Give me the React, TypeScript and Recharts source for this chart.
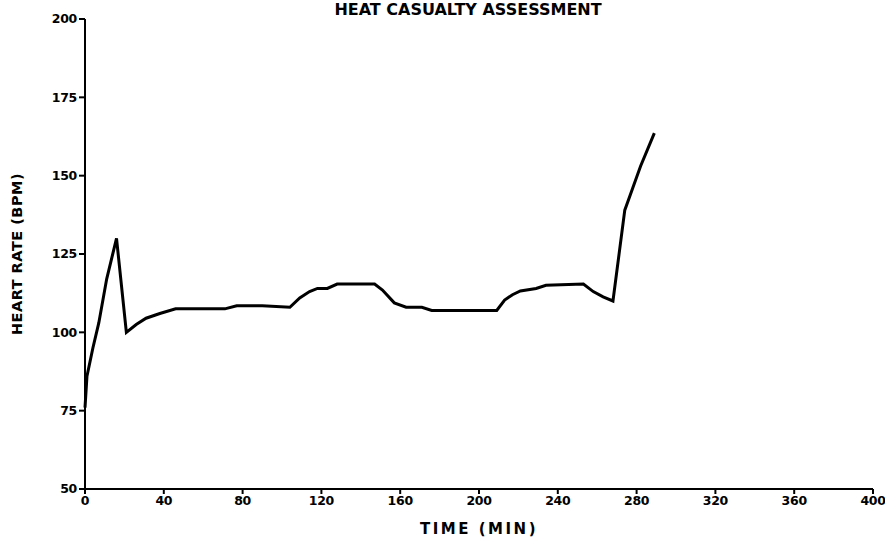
import { LineChart, Line, XAxis, YAxis } from 'recharts'

// readings
const minutes = [0, 1, 4, 7, 11, 16, 21, 26, 31, 38, 46, 60, 71, 77, 90, 104, 109, 114, 118, 123, 128, 140, 147, 151, 157, 163, 171, 176, 190, 209, 213, 217, 221, 229, 234, 253, 258, 263, 268, 274, 278, 282, 289]
const heartRate = [76, 86, 95, 103, 117, 130, 100, 102.5, 104.5, 106, 107.5, 107.5, 107.5, 108.5, 108.5, 108, 111, 113, 114, 114, 115.4, 115.4, 115.4, 113.5, 109.4, 108, 108, 107, 107, 107, 110.3, 112, 113.2, 114, 115, 115.4, 113, 111.3, 110, 139, 146, 153, 163.6]

const timeTicks = [0, 40, 80, 120, 160, 200, 240, 280, 320, 360, 400]
const rateTicks = [50, 75, 100, 125, 150, 175, 200]

const data = minutes.map((m, i) => ({ minute: m, bpm: heartRate[i] }))

const font = "'DejaVu Sans', sans-serif"
const tickStyle = { fontFamily: font, fontSize: 12.5, fontWeight: 'bold', fill: '#000', letterSpacing: -0.3 }
const labelStyle = { fontFamily: font, fontWeight: 'bold', fill: '#000' }

export default function App() {
  return (
    <div style={{ position: 'absolute', left: 0, top: 0, width: 885, height: 556, background: '#fff', overflow: 'hidden' }}>
      <div
        style={{
          position: 'absolute',
          top: 2,
          left: 0,
          width: 936,
          textAlign: 'center',
          fontFamily: font,
          fontWeight: 'bold',
          fontSize: 16,
          lineHeight: '15px',
        }}
      >
        HEAT CASUALTY ASSESSMENT
      </div>
      <LineChart width={885} height={556} data={data} margin={{ top: 19, right: 12, bottom: 0, left: 0 }}>
        <XAxis
          dataKey="minute"
          type="number"
          domain={[0, 400]}
          ticks={timeTicks}
          height={67}
          stroke="#000"
          strokeWidth={2}
          tickSize={5}
          tick={tickStyle}
          label={{ value: 'TIME (MIN)', position: 'insideBottom', offset: 22, style: { ...labelStyle, fontSize: 15, letterSpacing: 2.5 } }}
        />
        <YAxis
          type="number"
          domain={[50, 200]}
          ticks={rateTicks}
          width={85}
          stroke="#000"
          strokeWidth={2}
          tickSize={6}
          tick={tickStyle}
          label={{ value: 'HEART RATE (BPM)', angle: -90, position: 'insideLeft', offset: 17, style: { ...labelStyle, fontSize: 14.5, letterSpacing: 0.5, textAnchor: 'middle' } }}
        />
        <Line
          type="linear"
          dataKey="bpm"
          stroke="#000"
          strokeWidth={3}
          dot={false}
          isAnimationActive={false}
        />
      </LineChart>
    </div>
  )
}
